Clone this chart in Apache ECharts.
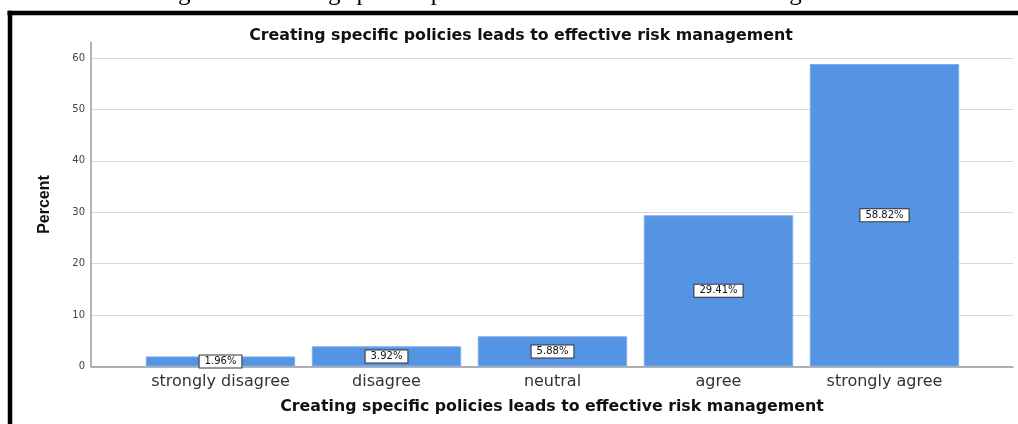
<!DOCTYPE html>
<html>
<head>
<meta charset="utf-8">
<script src="https://cdn.jsdelivr.net/npm/echarts@6/dist/echarts.min.js"></script>
<style>
  html, body { margin: 0; padding: 0; background: #fff; }
  #chart { width: 1018px; height: 424px; }
</style>
</head>
<body>
<div id="chart"></div>
<script>
// Response categories and their share of respondents (%)
const categories = ['strongly disagree', 'disagree', 'neutral', 'agree', 'strongly agree'];
const percents = [1.96, 3.92, 5.88, 29.41, 58.82];

const chartTitle = 'Creating specific policies leads to effective risk management';
const figureCaption = 'Figure 6: Creating specific policies leads to effective risk management';
const yAxisTitle = 'Percent';
const yMax = 63;
const yStep = 10;

const chart = echarts.init(document.getElementById('chart'), null, { renderer: 'canvas' });

const gridTop = 42.5;
const gridBottom = 57.5;
const axisGrey = '#9a9a9a';

chart.setOption({
  animation: false,
  title: {
    text: chartTitle,
    left: 516,
    top: 23,
    textAlign: 'center',
    textStyle: { fontFamily: 'DejaVu Sans', fontWeight: 'bold', fontSize: 15.8, color: '#111' }
  },
  grid: [
    // full plotting frame: axis lines and gridlines
    { left: 91, right: 5, top: gridTop, bottom: gridBottom },
    // inner band holding the bars (SPSS leaves padding at both ends)
    { left: 137.5, right: 50.5, top: gridTop, bottom: gridBottom }
  ],
  xAxis: [
    {
      gridIndex: 0, type: 'value', min: 0, max: 1,
      axisLine: { show: true, lineStyle: { color: axisGrey, width: 1.5 } },
      axisTick: { show: false }, axisLabel: { show: false }, splitLine: { show: false },
      name: chartTitle, nameLocation: 'middle', nameGap: 32,
      nameTextStyle: { fontFamily: 'DejaVu Sans', fontWeight: 'bold', fontSize: 15.8, color: '#111' }
    },
    {
      gridIndex: 1, type: 'category', data: categories,
      axisLine: { show: false }, axisTick: { show: false },
      axisLabel: { interval: 0, fontFamily: 'DejaVu Sans', fontSize: 16, color: '#333', margin: 7 }
    }
  ],
  yAxis: [
    {
      gridIndex: 0, type: 'value', min: 0, max: yMax, interval: yStep,
      axisLine: { show: true, lineStyle: { color: axisGrey, width: 1.5 } },
      axisTick: { show: false },
      axisLabel: {
        formatter: v => (v % yStep === 0 ? String(v) : ''),
        fontFamily: 'DejaVu Sans', fontSize: 10, color: '#444', margin: 6
      },
      splitLine: { show: true, showMaxLine: false, lineStyle: { color: '#d9d9d9', width: 1 } },
      name: yAxisTitle, nameLocation: 'middle', nameGap: 38,
      nameTextStyle: { fontFamily: 'Liberation Sans Narrow, Liberation Sans', fontWeight: 'bold', fontSize: 16, color: '#111' }
    },
    { gridIndex: 1, type: 'value', min: 0, max: yMax, show: false }
  ],
  series: [{
    type: 'bar',
    xAxisIndex: 1,
    yAxisIndex: 1,
    data: percents,
    barWidth: '90%',
    itemStyle: { color: '#5593e3', borderColor: '#7eadef', borderWidth: 1 },
    label: {
      show: true,
      position: 'inside',
      formatter: p => p.value.toFixed(2) + '%',
      fontFamily: 'DejaVu Sans',
      fontSize: 10,
      color: '#111',
      backgroundColor: '#fff',
      borderColor: '#333',
      borderWidth: 1,
      padding: [1, 5, 1, 5]
    }
  }],
  graphic: [
    {
      type: 'text', x: 510, y: -7, silent: true,
      style: {
        text: figureCaption, fontFamily: 'Liberation Serif', fontSize: 25,
        fill: '#000', align: 'center', verticalAlign: 'middle'
      }
    },
    { type: 'line', silent: true, shape: { x1: 7.5, y1: 13, x2: 1018, y2: 13 }, style: { stroke: '#000', lineWidth: 4.5 } },
    { type: 'line', silent: true, shape: { x1: 10, y1: 10.75, x2: 10, y2: 424 }, style: { stroke: '#000', lineWidth: 4.5 } }
  ]
});
</script>
</body>
</html>
